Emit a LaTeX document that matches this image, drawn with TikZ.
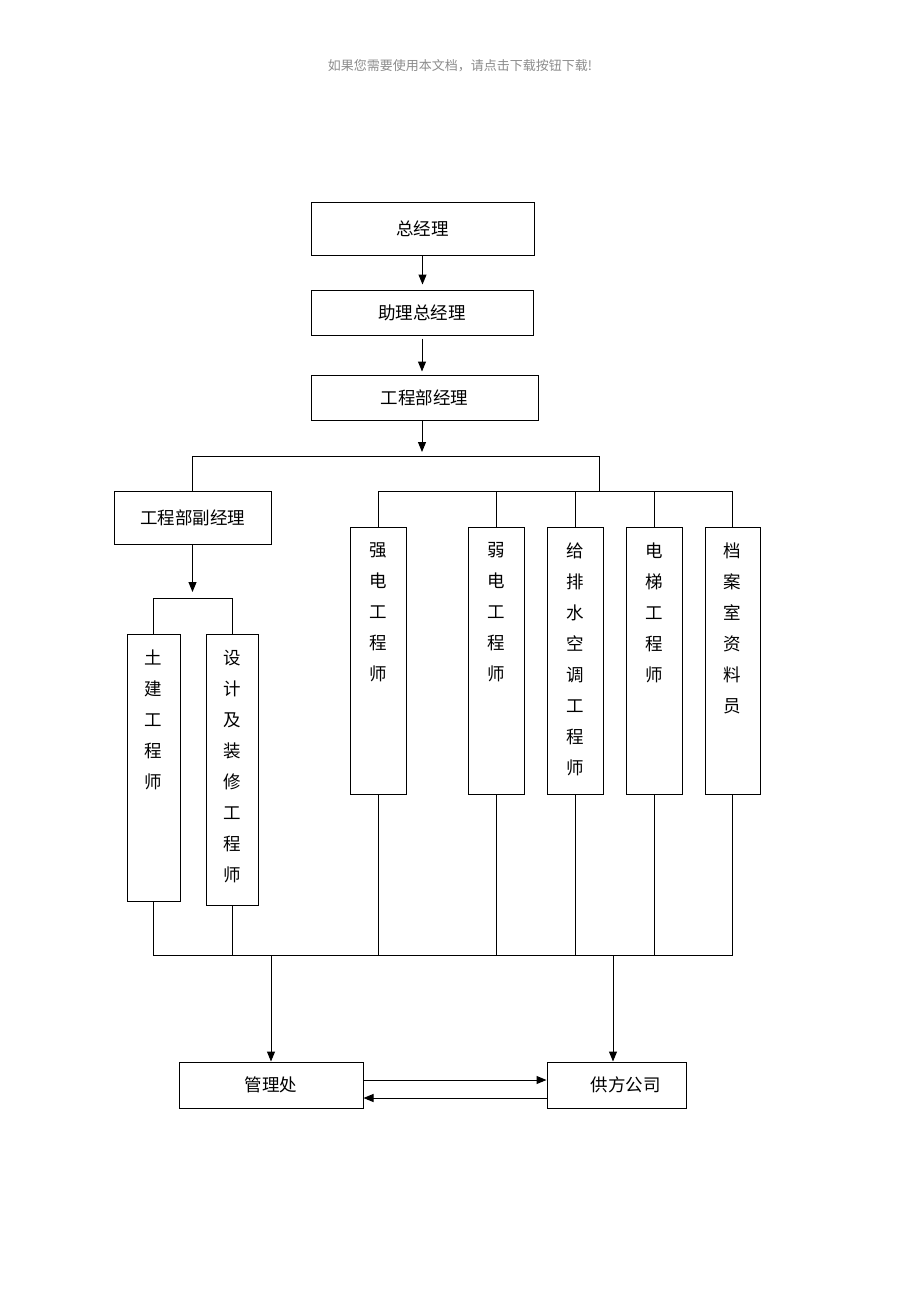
\documentclass[tikz,border=0pt]{standalone}
\usepackage{fontspec}
\setmainfont{Noto Sans CJK SC}
\usetikzlibrary{arrows.meta}
\tikzset{
  boxnode/.style={draw, line width=1pt, inner sep=0pt, font=\fontsize{17.5}{20}\selectfont},
  vtext/.style={inner sep=0pt, align=center, anchor=north, font=\fontsize{17.5}{31}\selectfont},
  conn/.style={line width=1pt},
  arr/.style={line width=1pt, -{Triangle[length=10pt,width=8pt]}},
}
\begin{document}
\begin{tikzpicture}[x=1pt,y=-1pt]
\useasboundingbox (0,0) rectangle (920,1302);
\fill[white] (0,0) rectangle (920,1302);
\node[text=black!45, font=\fontsize{13}{15}\selectfont] (hdr) at (460,66) {如果您需要使用本文档，请点击下载按钮下载!};
% top chain
\node[boxnode, minimum width=223pt, minimum height=53pt] (zjl) at (422.5,228.5) {总经理};
\node[boxnode, minimum width=222pt, minimum height=45pt] (zl) at (422,312.5) {助理总经理};
\node[boxnode, minimum width=227pt, minimum height=45pt] (gcb) at (424.5,397.5) {工程部经理};
\node[boxnode, minimum width=157pt, minimum height=53pt] (fu) at (192.5,517.5) {工程部副经理};
% vertical boxes right
\node[boxnode, minimum width=56pt, minimum height=267pt] (qd) at (378,660.5) {};
\node[boxnode, minimum width=56pt, minimum height=267pt] (rd) at (496,660.5) {};
\node[boxnode, minimum width=56pt, minimum height=267pt] (gps) at (575,660.5) {};
\node[boxnode, minimum width=56pt, minimum height=267pt] (dt) at (654,660.5) {};
\node[boxnode, minimum width=55pt, minimum height=267pt] (da) at (732.5,660.5) {};
\node[vtext] (tqd) at ([yshift=-16pt]qd.north) {强\\电\\工\\程\\师};
\node[vtext] (trd) at ([yshift=-16pt]rd.north) {弱\\电\\工\\程\\师};
\node[vtext] (tgps) at ([yshift=-16pt]gps.north) {给\\排\\水\\空\\调\\工\\程\\师};
\node[vtext] (tdt) at ([yshift=-16pt]dt.north) {电\\梯\\工\\程\\师};
\node[vtext] (tda) at ([yshift=-16pt]da.north) {档\\案\\室\\资\\料\\员};
% vertical boxes left
\node[boxnode, minimum width=53pt, minimum height=267pt] (tj) at (153.5,767.5) {};
\node[boxnode, minimum width=52pt, minimum height=271pt] (sj) at (232,769.5) {};
\node[vtext] (ttj) at ([yshift=-16pt]tj.north) {土\\建\\工\\程\\师};
\node[vtext] (tsj) at ([yshift=-16pt]sj.north) {设\\计\\及\\装\\修\\工\\程\\师};
% bottom boxes
\node[boxnode, minimum width=184pt, minimum height=46pt] (glc) at (271,1085) {管理处};
\node[boxnode, minimum width=139pt, minimum height=46pt] (gf) at (616.5,1085) {\hspace*{18pt}供方公司};
% junction coordinates
\coordinate (j1) at (422,456);
\coordinate (hR) at (599,456);
\coordinate (r1) at (599,491);
\coordinate (l1) at (192.5,598);
\coordinate (b1) at (271,955);
\coordinate (b2) at (613,955);
% connectors top
\draw[arr, shorten >=5pt] (zjl.south) -- (zjl.south |- zl.north);
\draw[arr, shorten >=6pt] ([yshift=-3pt]zl.south) -- ([yshift=-3pt]zl.south |- gcb.north);
\draw[arr, shorten >=4pt] (j1 |- gcb.south) -- (j1);
\draw[conn] (fu.north) -- (fu.north |- j1) -- (hR) -- (r1);
\draw[conn] (qd.north) -- (qd.north |- r1) -- (da.north |- r1) -- (da.north);
\draw[conn] (rd.north) -- (rd.north |- r1);
\draw[conn] (gps.north) -- (gps.north |- r1);
\draw[conn] (dt.north) -- (dt.north |- r1);
% left branch
\draw[arr, shorten >=6pt] (fu.south) -- (l1);
\draw[conn] (tj.north) -- (tj.north |- l1) -- (sj.north |- l1) -- (sj.north);
% bottom bus
\draw[conn] (tj.south) -- (tj.south |- b1) -- (da.south |- b1) -- (da.south);
\draw[conn] (sj.south) -- (sj.south |- b1);
\draw[conn] (qd.south) -- (qd.south |- b1);
\draw[conn] (rd.south) -- (rd.south |- b1);
\draw[conn] (gps.south) -- (gps.south |- b1);
\draw[conn] (dt.south) -- (dt.south |- b1);
\draw[arr] (b1) -- (glc.north);
\draw[arr] (b2) -- (b2 |- gf.north);
% bottom arrows
\draw[arr] ([yshift=5pt]glc.east) -- ([yshift=5pt]gf.west);
\draw[arr] ([yshift=-13pt]gf.west) -- ([yshift=-13pt]glc.east);
\end{tikzpicture}
\end{document}
